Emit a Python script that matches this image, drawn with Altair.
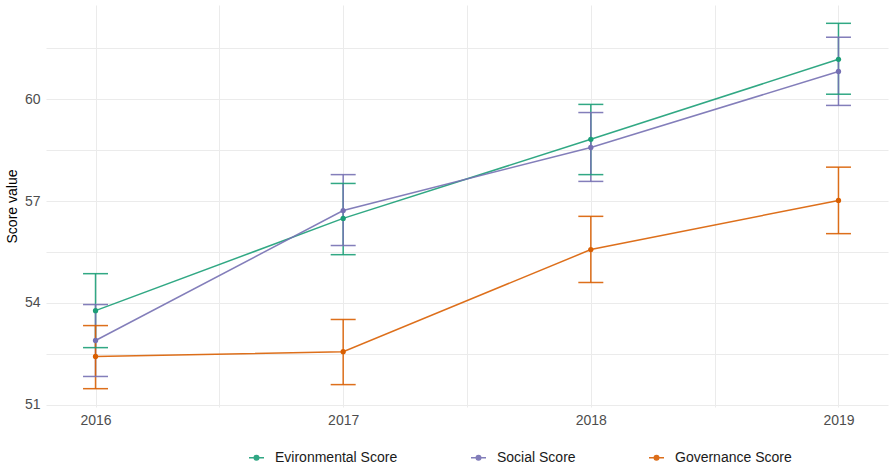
import altair as alt
import pandas as pd

# ESG score means with confidence bounds, by year
years = [2016, 2017, 2018, 2019]
series_names = ["Evironmental Score", "Social Score", "Governance Score"]
series_colors = ["#1B9E77", "#7570B3", "#D95F02"]

env_mean = [53.77, 56.49, 58.82, 61.18]
env_low = [52.68, 55.42, 57.78, 60.15]
env_high = [54.86, 57.52, 59.85, 62.24]

soc_mean = [52.89, 56.72, 58.58, 60.82]
soc_low = [51.83, 55.69, 57.58, 59.82]
soc_high = [53.95, 57.78, 59.61, 61.83]

gov_mean = [52.42, 52.56, 55.57, 57.02]
gov_low = [51.47, 51.59, 54.60, 56.04]
gov_high = [53.33, 53.51, 56.55, 58.00]

rows = []
for name, m, lo, hi in zip(
    series_names,
    [env_mean, soc_mean, gov_mean],
    [env_low, soc_low, gov_low],
    [env_high, soc_high, gov_high],
):
    for yr, a, b, c in zip(years, m, lo, hi):
        rows.append({"year": yr, "series": name, "score": a, "low": b, "high": c})
df = pd.DataFrame(rows)

font = "Liberation Sans"

x_enc = alt.X(
    "year:Q",
    scale=alt.Scale(domain=[2015.8, 2019.2], nice=False, zero=False),
    axis=alt.Axis(
        values=[2016, 2016.5, 2017, 2017.5, 2018, 2018.5, 2019],
        labelExpr="datum.value % 1 === 0 ? '' + datum.value : ''",
        title=None,
    ),
)
y_scale = alt.Scale(domain=[50.93, 62.78], nice=False, zero=False)
y_axis = alt.Axis(
    values=[51, 52.5, 54, 55.5, 57, 58.5, 60, 61.5],
    labelExpr="datum.value % 3 === 0 ? '' + datum.value : ''",
    title="Score value",
    titlePadding=5,
)

color_enc = alt.Color(
    "series:N",
    scale=alt.Scale(domain=series_names, range=series_colors),
    legend=alt.Legend(
        title=None,
        orient="none",
        direction="horizontal",
        legendX=202,
        legendY=444,
        symbolType="M-1,0L1,0M-0.3,0A0.3,0.3,0,1,0,0.3,0A0.3,0.3,0,1,0,-0.3,0",
        symbolSize=225,
        symbolStrokeWidth=1.5,
        labelFontSize=14,
        labelFont=font,
        labelColor="#1a1a1a",
        labelOffset=10,
        columnPadding=70,
    ),
)

base = alt.Chart(df)

lines = base.mark_line(strokeWidth=1.5, opacity=0.9).encode(
    x=x_enc, y=alt.Y("score:Q", scale=y_scale, axis=y_axis), color=color_enc
)
bars = base.mark_rule(strokeWidth=1.5, opacity=0.9).encode(
    x="year:Q", y="low:Q", y2="high:Q", color=alt.Color("series:N", legend=None)
)
cap_lo = base.mark_tick(orient="horizontal", size=25, thickness=1.5, opacity=0.9).encode(
    x="year:Q", y="low:Q", color=alt.Color("series:N", legend=None)
)
cap_hi = base.mark_tick(orient="horizontal", size=25, thickness=1.5, opacity=0.9).encode(
    x="year:Q", y="high:Q", color=alt.Color("series:N", legend=None)
)
points = base.mark_circle(size=28, opacity=1).encode(
    x="year:Q", y="score:Q", color=alt.Color("series:N", legend=None)
)

chart = (
    alt.layer(lines, bars, cap_lo, cap_hi, points)
    .properties(
        width=842,
        height=402,
        background="white",
        autosize=alt.AutoSizeParams(type="none"),
        padding={"left": 46, "top": 5, "right": 1, "bottom": 61},
    )
    .configure_view(stroke=None)
    .configure_axis(
        grid=True,
        gridColor="#ebebeb",
        gridWidth=1,
        domain=False,
        ticks=False,
        labelFont=font,
        labelFontSize=14,
        labelColor="#4d4d4d",
        labelPadding=6,
        titleFont=font,
        titleFontSize=14,
        titleFontWeight="normal",
        titleColor="#000000",
        titlePadding=10,
    )
)

chart.save("out.html", embed_options={"renderer": "svg", "actions": False})
